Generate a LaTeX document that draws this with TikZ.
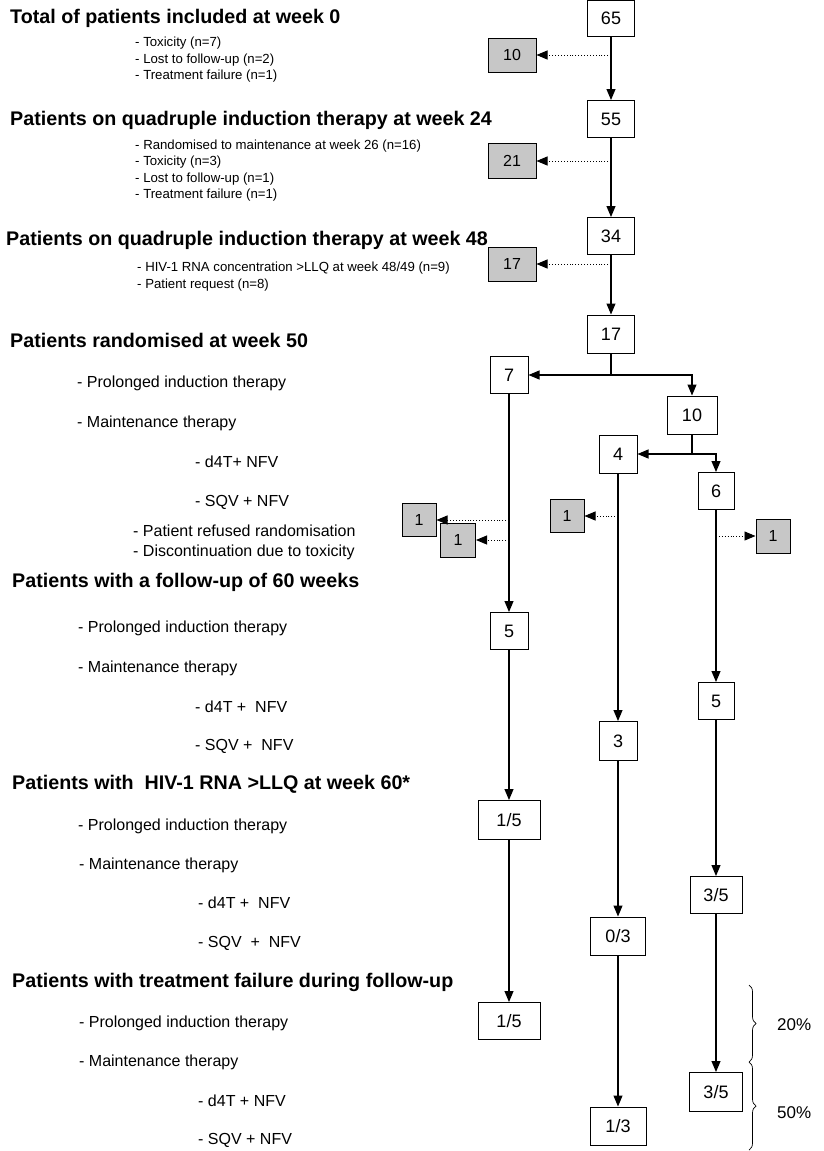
\documentclass[tikz,border=0pt]{standalone}
\usepackage{fontspec}
\setmainfont{Liberation Sans}
\usetikzlibrary{arrows.meta,positioning,decorations.pathreplacing}

\begin{document}
\begin{tikzpicture}[
  x=1pt,y=-1pt,
  every node/.style={inner sep=0pt},
  head/.style={anchor=west,font=\fontsize{19.7}{21}\selectfont\bfseries},
  item/.style={anchor=west,font=\fontsize{16}{18}\selectfont},
  small/.style={anchor=west,align=left,font=\fontsize{13.2}{16.5}\selectfont},
  cnt/.style={draw,line width=1pt,fill=white,minimum width=38pt,minimum height=37pt,font=\fontsize{18}{20}\selectfont},
  lost/.style={draw,line width=1pt,fill=black!22,minimum width=34pt,minimum height=33pt,font=\fontsize{16}{18}\selectfont},
  flow/.style={draw,line width=1.1pt,-{Triangle[length=11pt,width=9pt]}},
  drop/.style={draw,dotted,line width=0.9pt,-{Triangle[length=11pt,width=9pt]}},
  brc/.style={draw,line width=0.7pt,decorate,decoration={brace,amplitude=7pt}},
]
\useasboundingbox (0,0) rectangle (823,1151);

\node[head] (h0) at (10,18) {Total of patients included at week 0};
\node[small] (s0) at (135,60) {- Toxicity (n=7)\\- Lost to follow-up (n=2)\\- Treatment failure (n=1)};
\node[head] (h24) at (10,120) {Patients on quadruple induction therapy at week 24};
\node[small] (s24) at (135,170.5) {- Randomised to maintenance at week 26 (n=16)\\- Toxicity (n=3)\\- Lost to follow-up (n=1)\\- Treatment failure (n=1)};
\node[head] (h48) at (6,240) {Patients on quadruple induction therapy at week 48};
\node[small] (s48) at (137,276.5) {- HIV-1 RNA concentration >LLQ at week 48/49 (n=9)\\- Patient request (n=8)};

\node[head] (h50) at (10,340) {Patients randomised at week 50};
\node[item] (a1) at (77,383) {- Prolonged induction therapy};
\node[item] (a2) at (77,423) {- Maintenance therapy};
\node[item] (a3) at (195,462) {- d4T+ NFV};
\node[item] (a4) at (195,502) {- SQV + NFV};
\node[item,align=left,font=\fontsize{16}{20}\selectfont] (a5) at (133,542) {- Patient refused randomisation\\- Discontinuation due to toxicity};

\node[head] (h60) at (12,582) {Patients with a follow-up of 60 weeks};
\node[item] (b1) at (78,628) {- Prolonged induction therapy};
\node[item] (b2) at (78,668) {- Maintenance therapy};
\node[item] (b3) at (195,707) {- d4T +\ \ NFV};
\node[item] (b4) at (195,746) {- SQV +\ \ NFV};

\node[head] (hllq) at (12,784) {Patients with\ \ HIV-1 RNA >LLQ at week 60*};
\node[item] (c1) at (78,826) {- Prolonged induction therapy};
\node[item] (c2) at (79,865) {- Maintenance therapy};
\node[item] (c3) at (198,903) {- d4T +\ \ NFV};
\node[item] (c4) at (198,943) {- SQV\ \ +\ \ NFV};

\node[head] (hfail) at (12,982) {Patients with treatment failure during follow-up};
\node[item] (d1) at (79,1023) {- Prolonged induction therapy};
\node[item] (d2) at (79,1062) {- Maintenance therapy};
\node[item] (d3) at (198,1101) {- d4T + NFV};
\node[item] (d4) at (198,1140) {- SQV + NFV};

\node[cnt,minimum width=47pt,minimum height=36pt] (n65) at (611,18) {65};
\node[lost,minimum width=48pt,minimum height=34pt] (g10) at (512,55) {10};
\node[cnt,minimum width=47pt] (n55) at (611,119) {55};
\node[lost,minimum width=48pt,minimum height=35pt] (g21) at (512,161) {21};
\node[cnt,minimum width=47pt] (n34) at (611,236) {34};
\node[lost,minimum width=48pt,minimum height=34pt] (g17) at (512,264) {17};
\node[cnt,minimum width=47pt,minimum height=38pt] (n17) at (611,334) {17};

\node[cnt] (n7) at (509,375) {7};
\node[cnt,minimum width=50pt,minimum height=38pt] (n10) at (692,415) {10};
\node[cnt,minimum height=38pt] (n4) at (618,454) {4};
\node[cnt,minimum width=36pt] (n6) at (716,491) {6};
\node[lost] (g1a) at (419,520) {1};
\node[lost,minimum width=35pt,minimum height=34pt] (g1b) at (458,540) {1};
\node[lost] (g1c) at (567,516) {1};
\node[lost,minimum height=34pt] (g1d) at (773,536) {1};

\node[cnt] (n5a) at (509,631) {5};
\node[cnt,minimum width=36pt] (n5b) at (716,701) {5};
\node[cnt,minimum height=39pt] (n3) at (618,741) {3};
\node[cnt,minimum width=62pt,minimum height=39pt] (r15a) at (509,820) {1/5};
\node[cnt,minimum width=52pt] (r35a) at (716,895) {3/5};
\node[cnt,minimum width=55pt,minimum height=38pt] (r03) at (618,936) {0/3};
\node[cnt,minimum width=62pt] (r15b) at (509,1021) {1/5};
\node[cnt,minimum width=53pt,minimum height=39pt] (r35b) at (716,1092) {3/5};
\node[cnt,minimum width=56pt,minimum height=38pt] (r13) at (618,1126) {1/3};

\draw[flow] (n65) -- (n55);
\draw[flow] (n55) -- (n34);
\draw[flow] (n34) -- (n17);
\draw[drop] (n65 |- g10) -- (g10);
\draw[drop] (n55 |- g21) -- (g21);
\draw[drop] (n34 |- g17) -- (g17);

\draw[flow] (n17.south) |- (n7);
\draw[flow] (n17.south) -- (n17 |- n7) -| (n10);
\draw[flow] (n10.south) |- (n4);
\draw[flow] (n10.south) -- (n10 |- n4) -| (n6);

\draw[flow] (n7) -- (n5a);
\draw[flow] (n5a) -- (r15a);
\draw[flow] (r15a) -- (r15b);
\draw[flow] (n4) -- (n3);
\draw[flow] (n3) -- (r03);
\draw[flow] (r03) -- (r13);
\draw[flow] (n6) -- (n5b);
\draw[flow] (n5b) -- (r35a);
\draw[flow] (r35a) -- (r35b);

\draw[drop] (n7 |- g1a) -- (g1a);
\draw[drop] (n7 |- g1b) -- (g1b);
\draw[drop] (n4 |- g1c) -- (g1c);
\draw[drop] (n6 |- g1d) -- (g1d);

\coordinate (br1) at (749,985);
\coordinate (br2) at (749,1062);
\coordinate (br3) at (749,1150);
\draw[brc] (br1) -- (br2);
\draw[brc] (br2) -- (br3);
\node[item,font=\fontsize{17}{19}\selectfont] (p20) at (777,1025) {20\%};
\node[item,font=\fontsize{17}{19}\selectfont] (p50) at (777,1113) {50\%};
\end{tikzpicture}
\end{document}
